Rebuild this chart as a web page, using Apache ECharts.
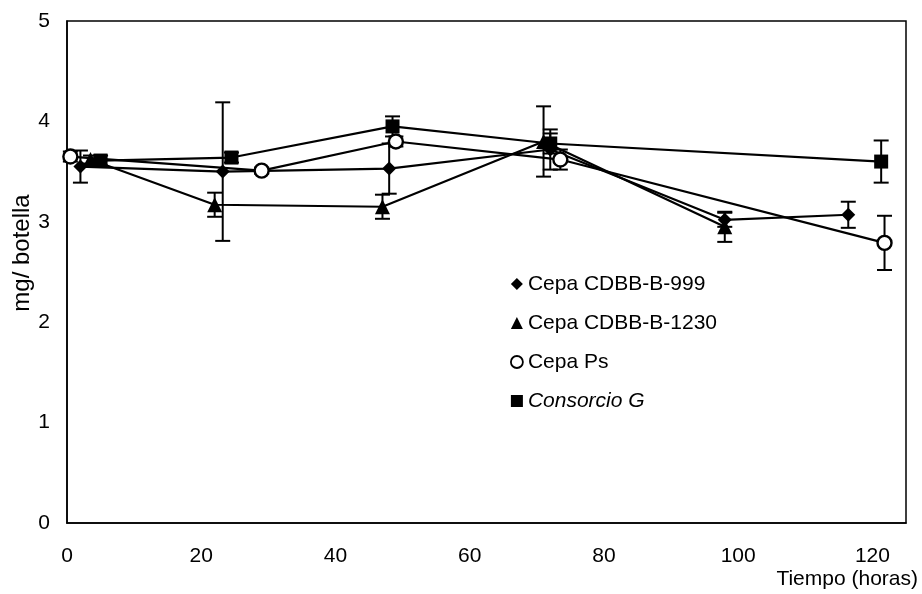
<!DOCTYPE html>
<html>
<head>
<meta charset="utf-8">
<script src="https://cdn.jsdelivr.net/npm/echarts@6/dist/echarts.min.js"></script>
<style>
  html, body { margin: 0; padding: 0; background: #fff; }
  #chart { width: 922px; height: 594px; }
</style>
</head>
<body>
<div id="chart"></div>
<script>
// Sampling times (h), means (mg/botella) and standard deviations per strain
const seriesNames = ['Cepa CDBB-B-999', 'Cepa CDBB-B-1230', 'Cepa Ps', 'Consorcio G'];

const t999 = [2, 23.2, 48, 72, 98, 116.4];
const v999 = [3.55, 3.50, 3.53, 3.72, 3.02, 3.07];
const e999 = [0.16, 0.69, 0.25, 0.20, 0.07, 0.13];

const t1230 = [3.5, 22, 47, 71, 98];
const v1230 = [3.62, 3.17, 3.15, 3.80, 2.95];
const e1230 = [0.04, 0.12, 0.12, 0.35, 0.15];

const tPs = [0.5, 29, 49, 73.5, 121.8];
const vPs = [3.65, 3.51, 3.80, 3.62, 2.79];
const ePs = [0.05, 0.03, 0.05, 0.10, 0.27];

const tG = [5, 24.5, 48.5, 72, 121.3];
const vG = [3.61, 3.64, 3.95, 3.78, 3.60];
const eG = [0.05, 0.05, 0.10, 0.10, 0.21];

const xTicks = [0, 20, 40, 60, 80, 100, 120];
const yTicks = [0, 1, 2, 3, 4, 5];

const FONT = '"Liberation Sans", Arial, sans-serif';

function pts(t, v) { return t.map((x, i) => [x, v[i]]); }
function errPts(t, v, e) { return t.map((x, i) => [x, v[i], e[i]]); }

// Vertical whisker with horizontal caps for each point
function errorBarSeries(name, data) {
  return {
    type: 'custom',
    name: name + ' sd',
    data: data,
    z: 1,
    silent: true,
    renderItem: function (params, api) {
      const x = api.value(0), y = api.value(1), e = api.value(2);
      const hi = api.coord([x, y + e]);
      const lo = api.coord([x, y - e]);
      const cap = 7.5;
      const style = { stroke: '#000', lineWidth: 2 };
      return {
        type: 'group',
        children: [
          { type: 'line', shape: { x1: hi[0], y1: hi[1], x2: lo[0], y2: lo[1] }, style: style },
          { type: 'line', shape: { x1: hi[0] - cap, y1: hi[1], x2: hi[0] + cap, y2: hi[1] }, style: style },
          { type: 'line', shape: { x1: lo[0] - cap, y1: lo[1], x2: lo[0] + cap, y2: lo[1] }, style: style }
        ]
      };
    }
  };
}

function lineSeries(name, data, symbol, size, hollow) {
  return {
    type: 'line',
    name: name,
    data: data,
    z: 3,
    symbol: symbol,
    symbolSize: size,
    showAllSymbol: true,
    lineStyle: { color: '#000', width: 2.2 },
    itemStyle: hollow
      ? { color: '#fff', borderColor: '#000', borderWidth: 2.4 }
      : { color: '#000', borderColor: '#000', borderWidth: 0 },
    emphasis: { disabled: true }
  };
}

const chart = echarts.init(document.getElementById('chart'), null, { renderer: 'canvas' });

chart.setOption({
  animation: false,
  backgroundColor: '#fff',
  textStyle: { fontFamily: FONT, color: '#000' },
  grid: {
    left: 67, right: 16, top: 21, bottom: 71,
    outerBoundsMode: 'none',
    containLabel: false,
    show: true, borderColor: '#000', borderWidth: 1.5, backgroundColor: 'transparent'
  },
  legend: {
    orient: 'vertical',
    left: 505,
    top: 268,
    itemWidth: 12,
    itemHeight: 12,
    itemGap: 17,
    textStyle: { fontFamily: FONT, fontSize: 21, color: '#000', lineHeight: 22 },
    data: [
      { name: seriesNames[0], icon: 'diamond', itemStyle: { color: '#000' } },
      { name: seriesNames[1], icon: 'triangle', itemStyle: { color: '#000' } },
      { name: seriesNames[2], icon: 'circle', itemStyle: { color: '#fff', borderColor: '#000', borderWidth: 1.8 } },
      { name: seriesNames[3], icon: 'rect', itemStyle: { color: '#000' }, textStyle: { fontStyle: 'italic' } }
    ]
  },
  xAxis: {
    type: 'value',
    min: xTicks[0],
    max: 125,
    interval: 20,
    name: 'Tiempo (horas)',
    nameLocation: 'end',
    nameGap: 12,
    nameMoveOverlap: false,
    nameTextStyle: { fontFamily: FONT, fontSize: 21, color: '#000', align: 'right', verticalAlign: 'top', padding: [46, 0, 0, 0] },
    axisLine: { show: true, lineStyle: { color: '#000', width: 1.5 } },
    axisTick: { show: false },
    splitLine: { show: false },
    axisLabel: {
      fontFamily: FONT, fontSize: 21, color: '#000', margin: 23,
      showMaxLabel: false,
      formatter: function (v) { return xTicks.indexOf(v) >= 0 ? String(v) : ''; }
    }
  },
  yAxis: {
    type: 'value',
    min: yTicks[0],
    max: yTicks[yTicks.length - 1],
    interval: 1,
    name: 'mg/ botella',
    nameLocation: 'middle',
    nameGap: 33,
    nameRotate: 90,
    nameMoveOverlap: false,
    nameTextStyle: { fontFamily: FONT, fontSize: 24, color: '#000', padding: [0, 0, 0, 38] },
    axisLine: { show: true, lineStyle: { color: '#000', width: 1.5 } },
    axisTick: { show: false },
    splitLine: { show: false },
    axisLabel: { fontFamily: FONT, fontSize: 21, color: '#000', margin: 17 }
  },
  series: [
    errorBarSeries(seriesNames[0], errPts(t999, v999, e999)),
    errorBarSeries(seriesNames[1], errPts(t1230, v1230, e1230)),
    errorBarSeries(seriesNames[2], errPts(tPs, vPs, ePs)),
    errorBarSeries(seriesNames[3], errPts(tG, vG, eG)),
    lineSeries(seriesNames[0], pts(t999, v999), 'diamond', 14, false),
    lineSeries(seriesNames[1], pts(t1230, v1230), 'triangle', 15, false),
    lineSeries(seriesNames[2], pts(tPs, vPs), 'circle', 14, true),
    lineSeries(seriesNames[3], pts(tG, vG), 'rect', 14, false)
  ]
});
</script>
</body>
</html>
